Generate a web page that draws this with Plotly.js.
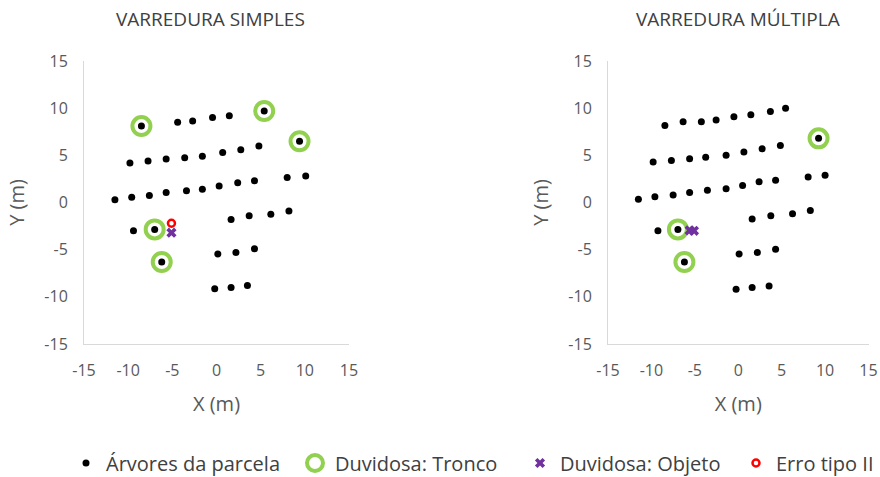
<!DOCTYPE html>
<html>
<head>
<meta charset="utf-8">
<script src="https://cdn.plot.ly/plotly-3.0.1.min.js"></script>
<style>html,body{margin:0;padding:0;background:#fff;}#chart{width:880px;height:477px;}</style>
</head>
<body>
<div id="chart"></div>
<script>
// ---- Data: VARREDURA SIMPLES ----
const simplesArvoresX = [-8.5,-4.4,-2.7,-0.45,1.45,5.4,9.4, -9.8,-7.75,-5.7,-3.6,-1.6,0.7,2.75,4.8, -11.5,-9.6,-7.6,-5.7,-3.4,-1.6,0.3,2.4,4.3,8.0,10.1, 1.65,3.7,6.15,8.2, -9.4,-7.0,-6.2, 0.15,2.2,4.3, -0.2,1.65,3.5];
const simplesArvoresY = [8.1,8.5,8.65,9.0,9.2,9.7,6.5, 4.2,4.4,4.6,4.75,4.9,5.3,5.6,6.0, 0.3,0.55,0.75,1.05,1.25,1.4,1.75,2.1,2.3,2.65,2.8, -1.8,-1.4,-1.25,-0.9, -3.0,-2.85,-6.3, -5.45,-5.3,-4.9, -9.15,-9.0,-8.8];
const simplesTroncoX = [-8.5,5.4,9.4,-7.0,-6.2];
const simplesTroncoY = [8.1,9.7,6.5,-2.85,-6.3];
const simplesObjetoX = [-5.1];
const simplesObjetoY = [-3.2];
const simplesErroX = [-5.1];
const simplesErroY = [-2.2];

// ---- Data: VARREDURA MÚLTIPLA ----
const multiplaArvoresX = [-8.45,-6.35,-4.25,-2.55,-0.5,1.45,3.7,5.45,9.25, -9.8,-7.7,-5.6,-3.75,-1.4,0.65,2.75,4.85, -11.5,-9.6,-7.5,-5.6,-3.55,-1.4,0.5,2.4,4.3,8.05,10.0, 1.6,3.75,6.25,8.3, -9.25,-6.95,-6.2, 0.1,2.2,4.3, -0.25,1.6,3.55];
const multiplaArvoresY = [8.15,8.55,8.55,8.75,9.1,9.3,9.65,10.0,6.8, 4.3,4.45,4.65,4.8,5.0,5.35,5.7,6.05, 0.35,0.6,0.8,1.05,1.3,1.45,1.8,2.2,2.35,2.7,2.9, -1.75,-1.4,-1.2,-0.85, -3.0,-2.85,-6.3, -5.45,-5.3,-4.95, -9.2,-9.0,-8.85];
const multiplaTroncoX = [9.25,-6.95,-6.2];
const multiplaTroncoY = [6.8,-2.85,-6.3];
const multiplaObjetoX = [-5.6,-5.1];
const multiplaObjetoY = [-2.95,-3.0];

const panelTitles = ['VARREDURA SIMPLES','VARREDURA MÚLTIPLA'];
const seriesNames = ['Árvores da parcela','Duvidosa: Tronco','Duvidosa: Objeto','Erro tipo II'];
const tickVals = [-15,-10,-5,0,5,10,15];

const FONT = 'Open Sans, sans-serif';
const GREEN = '#92d050', PURPLE = '#7030a0', RED = '#ff0000';

const treeMarker = {symbol:'circle', size:7, color:'#000000'};
const troncoMarker = {symbol:'circle-open', size:18, color:GREEN, line:{color:GREEN, width:4}};
const objetoMarker = {symbol:'x', size:9, color:PURPLE, line:{width:0}};
const erroMarker = {symbol:'circle-open', size:7, color:RED, line:{color:RED, width:2.5}};

const traces = [
  {x:simplesTroncoX, y:simplesTroncoY, xaxis:'x', yaxis:'y', mode:'markers', name:seriesNames[1], marker:troncoMarker, legend:'legend2', showlegend:true},
  {x:simplesArvoresX, y:simplesArvoresY, xaxis:'x', yaxis:'y', mode:'markers', name:seriesNames[0], marker:treeMarker, legend:'legend', showlegend:true},
  {x:simplesObjetoX, y:simplesObjetoY, xaxis:'x', yaxis:'y', mode:'markers', name:seriesNames[2], marker:objetoMarker, legend:'legend3', showlegend:true},
  {x:simplesErroX, y:simplesErroY, xaxis:'x', yaxis:'y', mode:'markers', name:seriesNames[3], marker:erroMarker, legend:'legend4', showlegend:true},
  {x:multiplaTroncoX, y:multiplaTroncoY, xaxis:'x2', yaxis:'y2', mode:'markers', name:seriesNames[1], marker:troncoMarker, showlegend:false},
  {x:multiplaArvoresX, y:multiplaArvoresY, xaxis:'x2', yaxis:'y2', mode:'markers', name:seriesNames[0], marker:treeMarker, showlegend:false},
  {x:multiplaObjetoX, y:multiplaObjetoY, xaxis:'x2', yaxis:'y2', mode:'markers', name:seriesNames[2], marker:objetoMarker, showlegend:false}
];

const W = 880, H = 477;
function axisCommon(){
  return {
    range:[-15,15], tickvals:tickVals, ticktext:tickVals.map(String),
    showgrid:false, zeroline:false, showline:true, linecolor:'#d9d9d9', linewidth:1,
    ticks:'', tickfont:{family:FONT, size:16, color:'#595959'}, fixedrange:true,
    automargin:false
  };
}
const titleFont = {family:FONT, size:20, color:'#595959'};
const yDomain = [(H-344)/H, (H-61)/H];
const xaxis = Object.assign(axisCommon(), {domain:[84/W, 349/W], anchor:'y', ticklabelstandoff:12,
  title:{text:'X (m)', font:titleFont, standoff:16}});
const yaxis = Object.assign(axisCommon(), {domain:yDomain, anchor:'x', ticklabelstandoff:12,
  title:{text:'Y (m)', font:titleFont, standoff:14}});
const xaxis2 = Object.assign(axisCommon(), {domain:[608/W, 868.5/W], anchor:'y2', ticklabelstandoff:12,
  title:{text:'X (m)', font:titleFont, standoff:16}});
const yaxis2 = Object.assign(axisCommon(), {domain:yDomain, anchor:'x2', ticklabelstandoff:12,
  title:{text:'Y (m)', font:titleFont, standoff:14}});

function legendAt(symbolX){
  return {x:(symbolX-20)/W, xanchor:'left', y:(H-463)/H, yanchor:'middle', orientation:'h',
    font:{family:FONT, size:20, color:'#404040'}, bgcolor:'rgba(0,0,0,0)', borderwidth:0};
}

const layout = {
  width:W, height:H, margin:{l:0, r:0, t:0, b:0, autoexpand:false},
  paper_bgcolor:'#ffffff', plot_bgcolor:'#ffffff',
  showlegend:true,
  xaxis:xaxis, yaxis:yaxis, xaxis2:xaxis2, yaxis2:yaxis2,
  legend:legendAt(86), legend2:legendAt(315), legend3:legendAt(540), legend4:legendAt(756),
  annotations:[
    {text:panelTitles[0], xref:'paper', yref:'paper', x:210/W, y:(H-19)/H, xanchor:'center', yanchor:'middle', showarrow:false, font:{family:FONT, size:19, color:'#404040'}},
    {text:panelTitles[1], xref:'paper', yref:'paper', x:738/W, y:(H-19)/H, xanchor:'center', yanchor:'middle', showarrow:false, font:{family:FONT, size:19, color:'#404040'}}
  ]
};

Plotly.newPlot('chart', traces, layout, {displayModeBar:false, staticPlot:true});
</script>
</body>
</html>
